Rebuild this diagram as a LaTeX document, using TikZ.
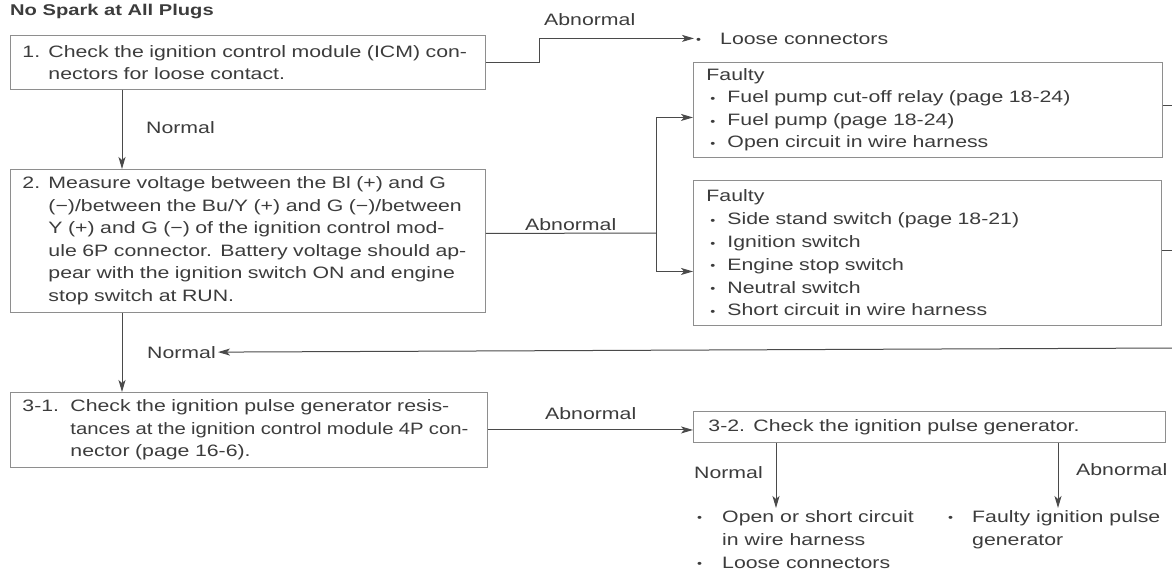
\documentclass[tikz,border=0pt]{standalone}
\usepackage{fontspec}
\usepackage{graphicx}
\setmainfont{Liberation Sans}[FakeStretch=1.29]
\usetikzlibrary{arrows.meta}
\definecolor{ink}{HTML}{3C3C3C}
\definecolor{wirec}{HTML}{4A4A4A}
\definecolor{framec}{HTML}{8E8E8E}
\newsavebox\jlbox
\newcommand\jl[2]{\sbox\jlbox{#2}\ifdim\wd\jlbox>#1\relax\resizebox{#1}{\height}{\usebox\jlbox}\else\makebox[#1][s]{#2}\fi}
\newcommand\bul{{\fontsize{11}{11}\selectfont\raisebox{0.4pt}{•}}}
\begin{document}
\begin{tikzpicture}[x=1pt,y=-1pt,
  every node/.style={text=ink, font=\fontsize{16.5}{22.5}\selectfont},
  stepbox/.style={draw=framec, line width=0.9pt, anchor=north west, inner sep=0pt, align=left},
  lbl/.style={anchor=base west, inner sep=0pt},
  wire/.style={draw=wirec, line width=1pt},
  arr/.style={wire, -{Stealth[length=12pt,width=7pt,inset=3pt]}},
]
\useasboundingbox (0,0) rectangle (1172,574);

\node[lbl, font=\bfseries\fontsize{15.6}{18}\selectfont] (title) at (10,15) {No Spark at All Plugs};

% Box 1
\node[stepbox, minimum width=475pt, minimum height=54pt, text width=451pt] (b1) at (10,35)
 {\makebox[26pt][l]{1.}\jl{419pt}{Check the ignition control module (ICM) con-}\\
  \hspace*{26pt}nectors for loose contact.};

% Box 2
\node[stepbox, minimum width=475pt, minimum height=143pt, text width=451pt] (b2) at (10,169)
 {\makebox[26pt][l]{2.}\jl{420pt}{Measure voltage between the Bl (+) and G}\\
  \hspace*{26pt}\jl{420pt}{(−)/between the Bu/Y (+) and G (−)/between}\\
  \hspace*{26pt}\jl{420pt}{Y (+) and G (−) of the ignition control mod-}\\
  \hspace*{26pt}\jl{420pt}{ule 6P connector. Battery voltage should ap-}\\
  \hspace*{26pt}\jl{420pt}{pear with the ignition switch ON and engine}\\
  \hspace*{26pt}stop switch at RUN.};

% Box 3-1
\node[stepbox, minimum width=477pt, minimum height=75pt, text width=453pt] (b31) at (10,392)
 {\makebox[48pt][l]{3-1.}\jl{398pt}{Check the ignition pulse generator resis-}\\
  \hspace*{48pt}\jl{398pt}{tances at the ignition control module 4P con-}\\
  \hspace*{48pt}nector (page 16-6).};

% Box 3-2
\node[stepbox, minimum width=472pt, minimum height=31pt, text width=442pt] (b32) at (693,411)
 {\makebox[45pt][l]{3-2.}Check the ignition pulse generator.};

% Faulty boxes
\node[stepbox, minimum width=469pt, minimum height=95pt, text width=443pt] (f1) at (693,62)
 {Faulty\\
  \hspace*{4pt}\makebox[17pt][l]{\bul}Fuel pump cut-off relay (page 18-24)\\
  \hspace*{4pt}\makebox[17pt][l]{\bul}Fuel pump (page 18-24)\\
  \hspace*{4pt}\makebox[17pt][l]{\bul}Open circuit in wire harness};

\node[stepbox, minimum width=468pt, minimum height=145pt, text width=442pt,
      font=\fontsize{16.5}{22.8}\selectfont] (f2) at (693,180)
 {Faulty\\
  \hspace*{4pt}\makebox[17pt][l]{\bul}Side stand switch (page 18-21)\\
  \hspace*{4pt}\makebox[17pt][l]{\bul}Ignition switch\\
  \hspace*{4pt}\makebox[17pt][l]{\bul}Engine stop switch\\
  \hspace*{4pt}\makebox[17pt][l]{\bul}Neutral switch\\
  \hspace*{4pt}\makebox[17pt][l]{\bul}Short circuit in wire harness};

% Outcomes
\node[lbl] (loose) at (696,44) {\makebox[24pt][l]{\bul}Loose connectors};
\node[anchor=north west, inner sep=0pt, align=left, font=\fontsize{16.5}{23}\selectfont] (ok) at (697,510)
 {\makebox[25pt][l]{\bul}Open or short circuit\\
  \hspace*{25pt}in wire harness\\
  \makebox[25pt][l]{\bul}Loose connectors};
\node[anchor=north west, inner sep=0pt, align=left, font=\fontsize{16.5}{23}\selectfont] (bad) at (948,510)
 {\makebox[24pt][l]{\bul}Faulty ignition pulse\\
  \hspace*{24pt}generator};

% Labels
\node[lbl] (la1) at (544,25) {Abnormal};
\node[lbl] (ln1) at (146,133) {Normal};
\node[lbl] (la2) at (525,230) {Abnormal};
\node[lbl] (ln2) at (147,358) {Normal};
\node[lbl] (la3) at (545,419) {Abnormal};
\node[lbl] (ln3) at (694,478) {Normal};
\node[lbl] (la4) at (1076,475) {Abnormal};

% Connectors
\coordinate (R) at (1172,0);
\coordinate (j) at (656,233);
\coordinate (ret) at (1172,348);

\draw[arr] (b1.east) -- ++(54,0) |- ([xshift=-2pt]loose.west);
\draw[arr] ([xshift=112pt]b1.south west) -- ([xshift=112pt]b2.north west);
\draw[wire] ([yshift=7.5pt]b2.east) -- (j);
\draw[arr] (j) |- ([yshift=-7.5pt]f1.west);
\draw[arr] (j) |- ([yshift=-18.5pt]f2.west);
\draw[wire] ([yshift=4.5pt]f1.east) -- ([yshift=4.5pt]f1.east -| R);
\draw[wire] ([yshift=2.5pt]f2.east) -- ([yshift=2.5pt]f2.east -| R);
\draw[arr] (ret) -- ([xshift=2pt]ln2.east);
\draw[arr] ([xshift=112pt]b2.south west) -- ([xshift=112pt]b31.north west);
\draw[arr] (b31.east) -- (b31.east -| b32.west);
\draw[arr] ([xshift=83pt]b32.south west) -- ([xshift=79pt,yshift=2pt]ok.north west);
\draw[arr] ([xshift=365pt]b32.south west) -- ([xshift=110pt,yshift=2pt]bad.north west);
\end{tikzpicture}
\end{document}
